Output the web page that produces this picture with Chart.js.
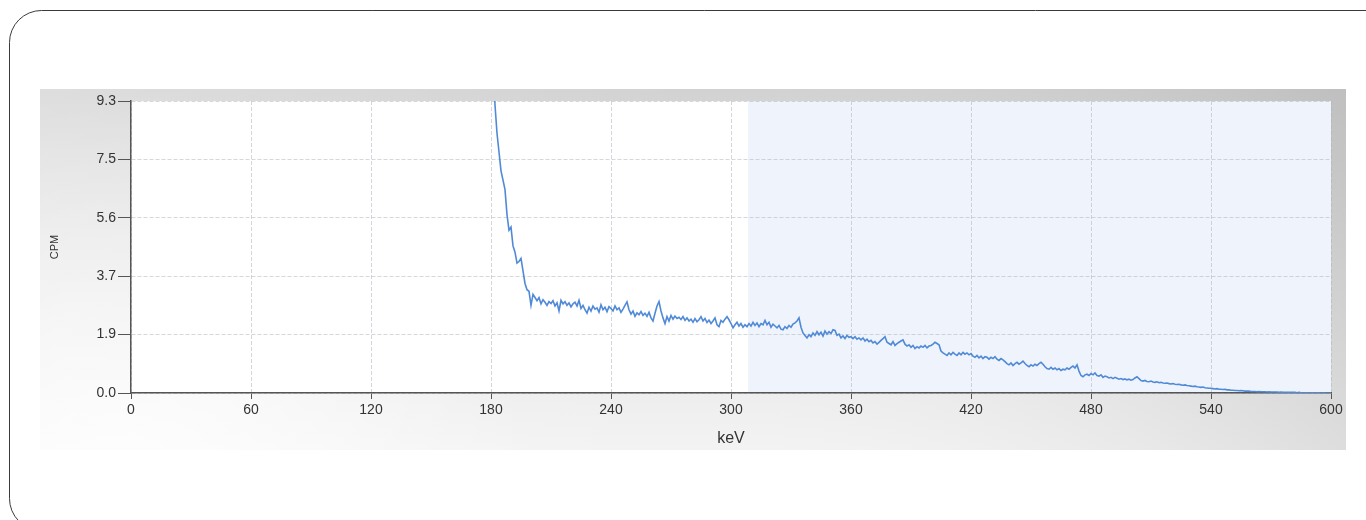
<!DOCTYPE html>
<html>
<head>
<meta charset="utf-8">
<title>Energy spectrum</title>
<script src="https://cdn.jsdelivr.net/npm/chart.js@4.4.1/dist/chart.umd.min.js"></script>
<style>
  html, body { margin: 0; padding: 0; background: #ffffff; }
  #wrap { position: relative; width: 1366px; height: 520px; }
</style>
</head>
<body>
<div id="wrap"><canvas id="spectrum" width="1366" height="520"></canvas></div>
<script>
// Spectrum channels: first channel energy and channel width (keV)
const startKeV = 180;
const stepKeV = 1;

// Counts per minute, one value per channel from 180 keV to 600 keV
const cpm = [
  14.0, 10.5, 9.2, 8.3, 7.7, 7.1, 6.8, 6.5, 5.7, 5.2,
  5.3, 4.7, 4.5, 4.15, 4.2, 4.3, 3.9, 3.5, 3.3, 3.25,
  2.80, 3.15, 3.05, 2.95, 3.05, 2.85, 2.98, 2.90, 2.80, 2.92,
  2.86, 2.95, 2.78, 2.88, 2.62, 2.96, 2.85, 2.92, 2.80, 2.88,
  2.75, 2.85, 2.90, 2.78, 2.96, 2.70, 2.80, 2.66, 2.55, 2.74,
  2.62, 2.78, 2.68, 2.72, 2.58, 2.82, 2.66, 2.74, 2.60, 2.76,
  2.70, 2.62, 2.78, 2.66, 2.72, 2.58, 2.68, 2.80, 2.91, 2.66,
  2.52, 2.62, 2.45, 2.56, 2.50, 2.60, 2.48, 2.55, 2.45, 2.58,
  2.40, 2.30, 2.55, 2.78, 2.92, 2.62, 2.40, 2.22, 2.44, 2.30,
  2.48, 2.36, 2.46, 2.38, 2.42, 2.35, 2.44, 2.32, 2.40, 2.30,
  2.36, 2.26, 2.38, 2.28, 2.34, 2.44, 2.30, 2.38, 2.25, 2.33,
  2.22, 2.30, 2.40, 2.18, 2.12, 2.32, 2.26, 2.36, 2.44, 2.34,
  2.22, 2.08, 2.18, 2.26, 2.14, 2.22, 2.10, 2.18, 2.12, 2.22,
  2.14, 2.26, 2.16, 2.24, 2.12, 2.22, 2.18, 2.32, 2.18, 2.26,
  2.10, 2.20, 2.14, 2.08, 2.16, 2.04, 2.02, 2.12, 2.06, 2.16,
  2.10, 2.20, 2.24, 2.30, 2.40, 2.10, 1.92, 1.84, 1.76, 1.86,
  1.80, 1.92, 1.84, 1.96, 1.86, 1.94, 1.82, 1.98, 1.88, 1.96,
  1.90, 2.02, 2.00, 1.84, 1.88, 1.76, 1.82, 1.74, 1.84, 1.78,
  1.80, 1.74, 1.80, 1.72, 1.76, 1.70, 1.76, 1.66, 1.72, 1.64,
  1.68, 1.60, 1.64, 1.56, 1.62, 1.68, 1.74, 1.80, 1.62, 1.58,
  1.54, 1.64, 1.52, 1.58, 1.62, 1.66, 1.70, 1.56, 1.50, 1.54,
  1.46, 1.52, 1.42, 1.48, 1.44, 1.50, 1.46, 1.52, 1.44, 1.50,
  1.52, 1.56, 1.62, 1.58, 1.54, 1.34, 1.28, 1.24, 1.20, 1.28,
  1.22, 1.30, 1.24, 1.20, 1.28, 1.22, 1.30, 1.24, 1.28, 1.22,
  1.26, 1.18, 1.14, 1.20, 1.12, 1.18, 1.10, 1.16, 1.14, 1.08,
  1.14, 1.10, 1.16, 1.08, 1.04, 1.10, 1.06, 1.00, 0.94, 0.90,
  0.96, 0.88, 0.94, 0.98, 0.92, 0.96, 1.02, 0.94, 0.88, 0.84,
  0.90, 0.86, 0.92, 0.88, 0.94, 0.98, 0.92, 0.84, 0.78, 0.76,
  0.82, 0.76, 0.80, 0.74, 0.78, 0.72, 0.76, 0.74, 0.80, 0.76,
  0.82, 0.86, 0.80, 0.90, 0.70, 0.56, 0.52, 0.58, 0.60, 0.56,
  0.62, 0.58, 0.64, 0.56, 0.54, 0.58, 0.50, 0.54, 0.52, 0.48,
  0.50, 0.46, 0.50, 0.47, 0.44, 0.46, 0.43, 0.45, 0.42, 0.44,
  0.41, 0.43, 0.48, 0.52, 0.46, 0.40, 0.38, 0.40, 0.37, 0.36,
  0.38, 0.35, 0.34, 0.36, 0.33, 0.34, 0.32, 0.31, 0.32, 0.30,
  0.29, 0.30, 0.28, 0.27, 0.28, 0.26, 0.25, 0.26, 0.24, 0.23,
  0.22, 0.21, 0.22, 0.20, 0.19, 0.18, 0.19, 0.17, 0.16, 0.15,
  0.15, 0.14, 0.13, 0.14, 0.12, 0.12, 0.11, 0.12, 0.10, 0.10,
  0.09, 0.09, 0.08, 0.08, 0.07, 0.08, 0.07, 0.06, 0.06, 0.06,
  0.05, 0.05, 0.05, 0.04, 0.05, 0.04, 0.04, 0.04, 0.03, 0.04,
  0.03, 0.03, 0.03, 0.03, 0.02, 0.03, 0.02, 0.02, 0.02, 0.02,
  0.02, 0.02, 0.02, 0.01, 0.02, 0.01, 0.01, 0.01, 0.01, 0.01,
  0.01, 0.01, 0.01, 0.01, 0.01, 0.00, 0.01, 0.00, 0.00, 0.00, 0.00
];

// Axis ranges and tick labels
const xMin = 0, xMax = 600, xStep = 60;
const yMax = 9.33;
const yTickLabels = ['0.0', '1.9', '3.7', '5.6', '7.5', '9.3'];

// Highlighted energy window (keV)
const windowKeV = [308.5, 600];

const points = cpm.map((v, i) => ({ x: startKeV + i * stepKeV, y: v }));

const backdrop = {
  id: 'backdrop',
  beforeDraw(chart) {
    const { ctx, chartArea: a, scales } = chart;
    ctx.save();
    // outer frame with rounded corner
    ctx.beginPath();
    ctx.roundRect(9.5, 10.5, 1420, 520, 32);
    ctx.fillStyle = '#ffffff';
    ctx.fill();
    ctx.strokeStyle = '#3a3a3a';
    ctx.lineWidth = 1;
    ctx.stroke();

    // gray chart panel
    const px = 40, py = 89, pw = 1306, ph = 361;
    let g = ctx.createLinearGradient(0, py, 0, py + ph);
    g.addColorStop(0, '#d2d2d2');
    g.addColorStop(1, '#f3f3f3');
    ctx.fillStyle = g;
    ctx.fillRect(px, py, pw, ph);
    g = ctx.createLinearGradient(px, 0, px + pw, 0);
    g.addColorStop(0, 'rgba(255,255,255,0.25)');
    g.addColorStop(0.5, 'rgba(255,255,255,0)');
    g.addColorStop(1, 'rgba(0,0,0,0.09)');
    ctx.fillStyle = g;
    ctx.fillRect(px, py, pw, ph);
    const r = ctx.createRadialGradient(px + 80, py + ph + 60, 10, px + 80, py + ph + 60, 420);
    r.addColorStop(0, 'rgba(255,255,255,0.9)');
    r.addColorStop(1, 'rgba(255,255,255,0)');
    ctx.fillStyle = r;
    ctx.fillRect(px, py, pw, ph);

    // plot area
    ctx.fillStyle = '#ffffff';
    ctx.fillRect(a.left, a.top, a.right - a.left, a.bottom - a.top);
    const x0 = scales.x.getPixelForValue(windowKeV[0]);
    const x1 = scales.x.getPixelForValue(windowKeV[1]);
    ctx.fillStyle = '#eff4fc';
    ctx.fillRect(x0, a.top, x1 - x0, a.bottom - a.top);
    ctx.restore();
  }
};

const tickFont = { family: 'Liberation Sans, Arial, sans-serif', size: 14 };

new Chart(document.getElementById('spectrum'), {
  type: 'line',
  data: {
    datasets: [{
      data: points,
      borderColor: 'rgb(80,138,214)',
      borderWidth: 1.6,
      pointRadius: 0,
      tension: 0,
      fill: false
    }]
  },
  options: {
    responsive: false,
    animation: false,
    events: [],
    layout: { padding: { left: 40, right: 35, top: 101, bottom: 70 } },
    plugins: { legend: { display: false }, tooltip: { enabled: false } },
    scales: {
      x: {
        type: 'linear',
        min: xMin,
        max: xMax,
        afterFit(s) { s.height = 57; },
        ticks: {
          stepSize: xStep,
          color: '#333333',
          font: tickFont,
          padding: 3,
          maxRotation: 0,
          autoSkip: false
        },
        grid: {
          color: 'rgba(170,175,185,0.5)',
          tickColor: '#555555',
          tickLength: 6,
          tickWidth: 1
        },
        border: { color: '#555555', width: 1.5, dash: [4, 2] },
        title: {
          display: true,
          text: 'keV',
          color: '#333333',
          font: { family: 'Liberation Sans, Arial, sans-serif', size: 16 },
          padding: { top: 0, bottom: 2 }
        }
      },
      y: {
        min: 0,
        max: yMax,
        afterFit(s) { s.width = 91; },
        afterBuildTicks(s) {
          s.ticks = yTickLabels.map((_, i) => ({ value: i * yMax / (yTickLabels.length - 1) }));
        },
        ticks: {
          color: '#333333',
          font: tickFont,
          padding: 2,
          callback: (v, i) => yTickLabels[i]
        },
        grid: {
          color: 'rgba(170,175,185,0.5)',
          tickColor: '#555555',
          tickLength: 13,
          tickWidth: 1
        },
        border: { color: '#555555', width: 1.5, dash: [4, 2] },
        title: {
          display: true,
          text: 'CPM',
          color: '#333333',
          font: { family: 'Liberation Sans, Arial, sans-serif', size: 11 },
          padding: { top: 8, bottom: 0 }
        }
      }
    }
  },
  plugins: [backdrop]
});
</script>
</body>
</html>
